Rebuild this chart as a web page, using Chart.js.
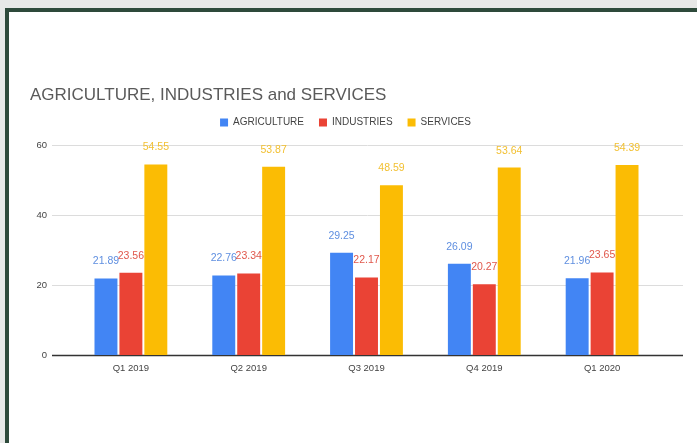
<!DOCTYPE html>
<html>
<head>
<meta charset="utf-8">
<script src="https://cdn.jsdelivr.net/npm/chart.js@4"></script>
<style>
  html, body {
    margin: 0;
    padding: 0;
    width: 697px;
    height: 443px;
    overflow: hidden;
    background: #e7e8e7;
  }
  .frame {
    position: absolute;
    left: 5px;
    top: 8px;
    right: -20px;
    bottom: -20px;
    border-top: 4px solid #2e4a3b;
    border-left: 4px solid #2e4a3b;
    background: #ffffff;
  }
  .holder {
    position: absolute;
    left: 0;
    top: 0;
    width: 697px;
    height: 443px;
  }
</style>
</head>
<body>
<div class="frame"></div>
<div class="holder"><canvas id="sectorChart"></canvas></div>
<script>
// Quarterly shares by sector
const quarters = ["Q1 2019", "Q2 2019", "Q3 2019", "Q4 2019", "Q1 2020"];
const agriculture = [21.89, 22.76, 29.25, 26.09, 21.96];
const industries = [23.56, 23.34, 22.17, 20.27, 23.65];
const services = [54.55, 53.87, 48.59, 53.64, 54.39];
const yTicks = [0, 20, 40, 60];

const FONT = "'Liberation Sans', Arial, sans-serif";

// Horizontal grid lines drawn a little wider than the bar area
const wideGrid = {
  id: "wideGrid",
  beforeDatasetsDraw(chart) {
    const { ctx, chartArea, scales } = chart;
    const left = chartArea.left - 20;
    const right = chartArea.right + 22;
    ctx.save();
    yTicks.forEach((v) => {
      const y = Math.round(scales.y.getPixelForValue(v)) + 0.5;
      ctx.beginPath();
      ctx.strokeStyle = v === 0 ? "#333333" : "#dcdcdc";
      ctx.lineWidth = v === 0 ? 1.3 : 1;
      ctx.moveTo(left, y);
      ctx.lineTo(right, y);
      ctx.stroke();
    });
    ctx.restore();
  },
};

// Value labels above each bar
const barValues = {
  id: "barValues",
  afterDatasetsDraw(chart) {
    const { ctx } = chart;
    ctx.save();
    ctx.font = "10.5px " + FONT;
    ctx.textAlign = "center";
    ctx.textBaseline = "middle";
    chart.data.datasets.forEach((ds, i) => {
      const meta = chart.getDatasetMeta(i);
      ctx.fillStyle = ds.labelColor;
      meta.data.forEach((bar, j) => {
        ctx.fillText(ds.data[j].toFixed(2), bar.x, bar.y - 17);
      });
    });
    ctx.restore();
  },
};

// Extra room between the legend and the plot
const legendSpacer = {
  id: "legendSpacer",
  beforeInit(chart) {
    const origFit = chart.legend.fit;
    chart.legend.fit = function fit() {
      origFit.bind(chart.legend)();
      this.height += 8;
    };
  },
};

new Chart(document.getElementById("sectorChart"), {
  type: "bar",
  data: {
    labels: quarters,
    datasets: [
      {
        label: "AGRICULTURE",
        data: agriculture,
        backgroundColor: "#4285f4",
        labelColor: "#5f8fe0",
      },
      {
        label: "INDUSTRIES",
        data: industries,
        backgroundColor: "#ea4335",
        labelColor: "#e0584c",
      },
      {
        label: "SERVICES",
        data: services,
        backgroundColor: "#fbbc04",
        labelColor: "#f2c032",
      },
    ],
  },
  options: {
    responsive: true,
    maintainAspectRatio: false,
    animation: false,
    datasets: {
      bar: {
        barPercentage: 0.92,
        categoryPercentage: 0.635,
      },
    },
    layout: {
      padding: { left: 30, right: 36, top: 85, bottom: 64 },
    },
    plugins: {
      title: {
        display: true,
        text: "AGRICULTURE, INDUSTRIES and SERVICES",
        align: "start",
        color: "#5a5a5a",
        font: { family: FONT, size: 17, weight: "normal" },
        padding: { top: 0, bottom: -3 },
      },
      legend: {
        display: true,
        position: "top",
        labels: {
          boxWidth: 8,
          boxHeight: 8,
          padding: 15,
          color: "#444444",
          font: { family: FONT, size: 10 },
        },
      },
      tooltip: { enabled: false },
    },
    scales: {
      x: {
        grid: { display: false, drawTicks: false },
        border: { display: false },
        ticks: {
          color: "#444444",
          font: { family: FONT, size: 9.5 },
          padding: 8,
        },
        afterFit(axis) {
          axis.height = 24;
        },
      },
      y: {
        min: 0,
        max: 60,
        grid: { display: false, drawTicks: false },
        border: { display: false },
        ticks: {
          stepSize: 20,
          color: "#444444",
          font: { family: FONT, size: 9.5 },
          padding: 25,
        },
        afterFit(axis) {
          axis.width = 42;
        },
      },
    },
  },
  plugins: [wideGrid, barValues, legendSpacer],
});
</script>
</body>
</html>
